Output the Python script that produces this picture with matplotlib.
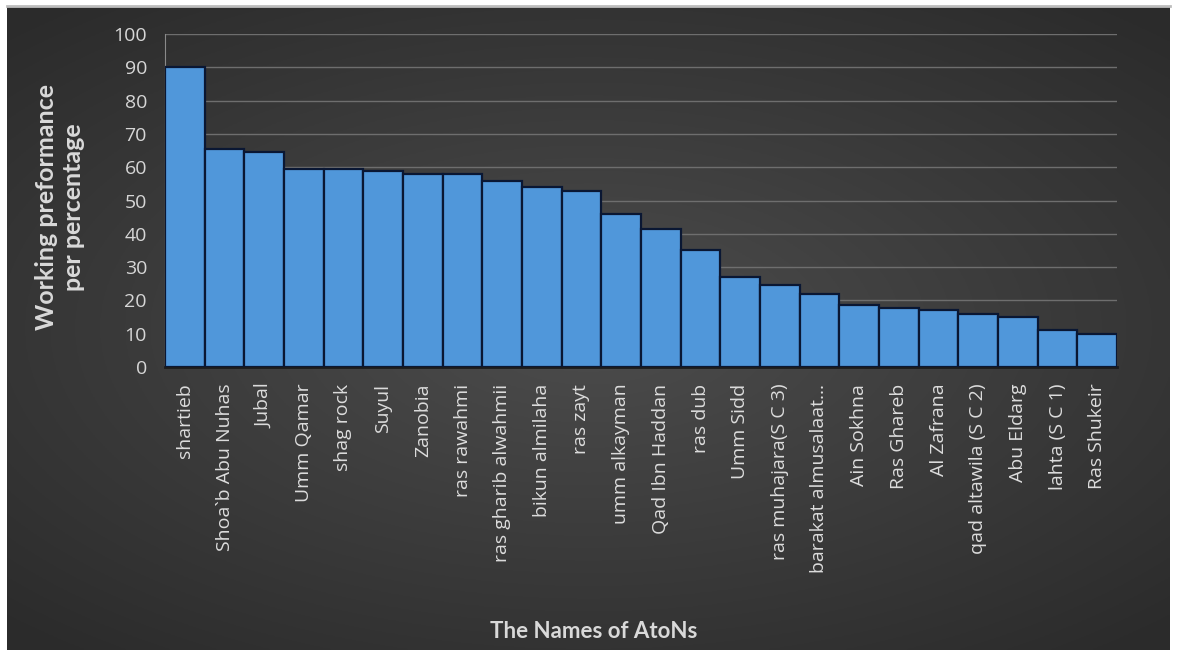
import matplotlib.pyplot as plt
import numpy as np

names = ["shartieb", "Shoa`b Abu Nuhas", "Jubal", "Umm Qamar", "shag rock", "Suyul",
         "Zanobia", "ras rawahmi", "ras gharib alwahmii", "bikun almilaha", "ras zayt",
         "umm alkayman", "Qad Ibn Haddan", "ras dub", "Umm Sidd", "ras muhajara(S C 3)",
         "barakat almusalaat...", "Ain Sokhna", "Ras Ghareb", "Al Zafrana",
         "qad altawila (S C 2)", "Abu Eldarg", "lahta (S C 1)", "Ras Shukeir"]
performance = [90, 65.5, 64.5, 59.5, 59.5, 59, 58, 58, 56, 54, 53,
               46, 41.5, 35, 27, 24.7, 22, 18.7, 17.7, 17, 16, 15, 11, 9.8]

W, H = 1179, 658
fig = plt.figure(figsize=(W / 100, H / 100), dpi=100, facecolor="white")

# dark panel with a soft radial glow in the middle
bg = fig.add_axes([7 / W, 8 / H, 1163 / W, 644 / H])
yy, xx = np.mgrid[-1:1:300j, -1:1:500j]
r = np.sqrt((xx / 1.1) ** 2 + (yy / 1.0) ** 2)
shade = 0.30 - 0.13 * np.clip(r, 0, 1.3) / 1.3
bg.imshow(np.dstack([shade] * 3), aspect="auto", extent=[0, 1, 0, 1])
bg.set_axis_off()
fig.add_artist(plt.Line2D([7 / W, 1170 / W], [1 - 6 / H, 1 - 6 / H],
                          color="#bdbdbd", lw=2))

ax = fig.add_axes([165 / W, 1 - 367 / H, (1117 - 165) / W, (367 - 34) / H])
ax.patch.set_alpha(0)

x = np.arange(len(names))
ax.bar(x, performance, width=1.0, color="#5097da", edgecolor="#0a1733",
       linewidth=1.6, zorder=3)

ax.set_xlim(-0.5, len(names) - 0.5)
ax.set_ylim(0, 100)
ax.set_yticks(range(0, 101, 10))
ax.grid(axis="y", color="#6e6e6e", linewidth=1, zorder=0)

ax.set_xticks(x)
ax.set_xticklabels(names, rotation=90, ha="center", va="top",
                   fontsize=14, color="#dcdcdc", family="Open Sans")
ax.tick_params(axis="x", length=0, pad=12)
ax.tick_params(axis="y", length=0, pad=13, labelsize=14, labelcolor="#d6d6d6")
for lab in ax.get_yticklabels():
    lab.set_family("Open Sans")

for side in ["top", "right"]:
    ax.spines[side].set_visible(False)
ax.spines["left"].set_color("#8a8a8a")
ax.spines["bottom"].set_color("#1c1c1c")
ax.spines["bottom"].set_linewidth(2)

fig.text(60 / W, 1 - 207 / H, "Working preformance\nper percentage",
         rotation=90, ha="center", va="center", fontsize=18, fontweight="bold",
         color="#d9d9d9", family="Lato", linespacing=1.25)
fig.text(594 / W, 1 - 631 / H, "The Names of AtoNs", ha="center", va="center",
         fontsize=16, fontweight="bold", color="#d9d9d9",
         family=["DejaVu Sans Condensed", "Lato"], stretch="condensed")

fig.savefig("out.png", dpi=100, facecolor=fig.get_facecolor())
